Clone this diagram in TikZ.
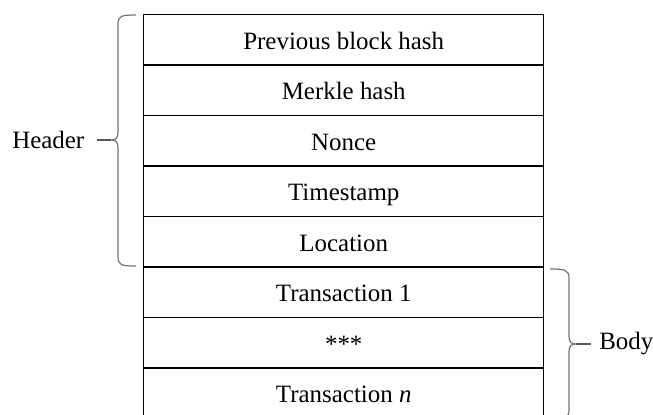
\documentclass[tikz,border=0pt]{standalone}
\usepackage{fontspec}
\setmainfont{Liberation Serif}
\begin{document}
\begin{tikzpicture}[x=0.75pt,y=-0.75pt,
  cell/.style={draw=black,line width=1.1pt,minimum width=300pt,minimum height=37.8pt,inner sep=0pt,
    text height=15pt,text depth=1pt,
    font=\fontsize{18.7}{22}\selectfont,anchor=north west},
  lbl/.style={font=\fontsize{18.7}{22}\selectfont,inner sep=0pt},
  brc/.style={draw=black!55,line width=0.9pt},
  tick/.style={draw=black!65,line width=1pt}]
\useasboundingbox (0,0) rectangle (653,414);
\clip (0,0) rectangle (653,414);
\node[cell] (prev) at (143,14) {Previous block hash};
\node[cell] (merkle) at (143,64.5) {Merkle hash};
\node[cell] (nonce) at (143,115) {Nonce};
\node[cell] (time) at (143,165.5) {Timestamp};
\node[cell] (loc) at (143,216) {Location};
\node[cell] (tx1) at (143,266.5) {Transaction 1};
\node[cell] (dots) at (143,317) {***};
\node[cell] (txn) at (143,367.5) {Transaction \textit{n}};
% header brace
\node[lbl,anchor=west] (header) at (12,140) {Header};
\coordinate (ht) at (136,15);
\coordinate (hb) at (136,266);
\draw[brc] (ht) .. controls (121,15) and (118,16) .. (118,24) -- (118,132)
  .. controls (118,138) and (116,140) .. (111,140)
  .. controls (116,140) and (118,142) .. (118,148) -- (118,257)
  .. controls (118,265) and (121,266) .. (hb);
\draw[tick] (header.east) ++(12,0) coordinate (hd) -- (111,140);
% body brace
\node[lbl,anchor=west] (body) at (599,344) {Body};
\coordinate (bt) at (550,269);
\coordinate (bb) at (550,419);
\draw[brc] (bt) .. controls (565,269) and (569,270) .. (569,278) -- (569,336)
  .. controls (569,342) and (571,344) .. (576,344)
  .. controls (571,344) and (569,346) .. (569,352) -- (569,410)
  .. controls (569,418) and (565,419) .. (bb);
\draw[tick] (576,344) -- (591,344);
\end{tikzpicture}
\end{document}
